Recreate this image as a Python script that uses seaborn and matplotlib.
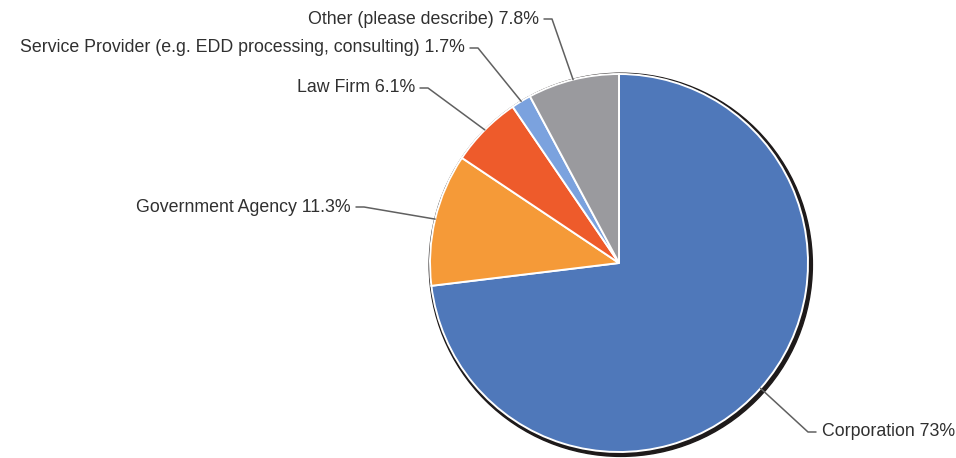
import numpy as np
import matplotlib
matplotlib.use("Agg")
import matplotlib.pyplot as plt
from matplotlib.patches import Circle
import seaborn as sns

# Survey: type of organisation
categories = [
    "Corporation",
    "Government Agency",
    "Law Firm",
    "Service Provider (e.g. EDD processing, consulting)",
    "Other (please describe)",
]
shares = [73, 11.3, 6.1, 1.7, 7.8]

sns.set_theme(style="white")
plt.rcParams["font.family"] = ["Liberation Sans", "DejaVu Sans"]

palette = sns.color_palette(["#4f78ba", "#f59a38", "#ee5b2b", "#7ba2de", "#9a9a9e"])

W, H = 956, 458
fig = plt.figure(figsize=(W / 100, H / 100), dpi=100)
ax = fig.add_axes([0, 0, 1, 1])

cx, cy, r = 619, H - 263, 189

# dark rim / drop shadow behind the pie
ax.add_patch(Circle((cx + 1.8, cy - 1.8), r + 2.6, color="#1e1a1a", zorder=0))

wedges, _ = ax.pie(
    shares,
    center=(cx, cy),
    radius=r,
    startangle=90,
    counterclock=False,
    colors=palette,
    wedgeprops=dict(edgecolor="white", linewidth=1.4),
)
for w in wedges:
    w.set_zorder(1)

ax.set_xlim(0, W)
ax.set_ylim(0, H)
ax.set_aspect("equal")
ax.axis("off")

# end of the horizontal tick of each leader line, in pixels from top-left
label_xy = [(816, 432), (364, 207), (428, 88), (478, 48), (552, 19)]
label_side = ["left", "right", "right", "right", "right"]

for w, cat, val, (lx, ly), side in zip(wedges, categories, shares, label_xy, label_side):
    mid = np.deg2rad((w.theta1 + w.theta2) / 2)
    ex, ey = cx + r * np.cos(mid), cy + r * np.sin(mid)
    ly = H - ly
    text = f"{cat} {val:g}%"
    if side == "left":
        ax.plot([ex, lx - 8, lx], [ey, ly, ly], color="#606060", lw=1.1, zorder=2)
        ax.text(lx + 6, ly, text, ha="left", va="center", fontsize=12.8, color="#303030")
    else:
        ax.plot([ex, lx, lx - 8], [ey, ly, ly], color="#606060", lw=1.1, zorder=2)
        ax.text(lx - 13, ly, text, ha="right", va="center", fontsize=12.8, color="#303030")

fig.savefig("out.png", dpi=100, facecolor="white")
